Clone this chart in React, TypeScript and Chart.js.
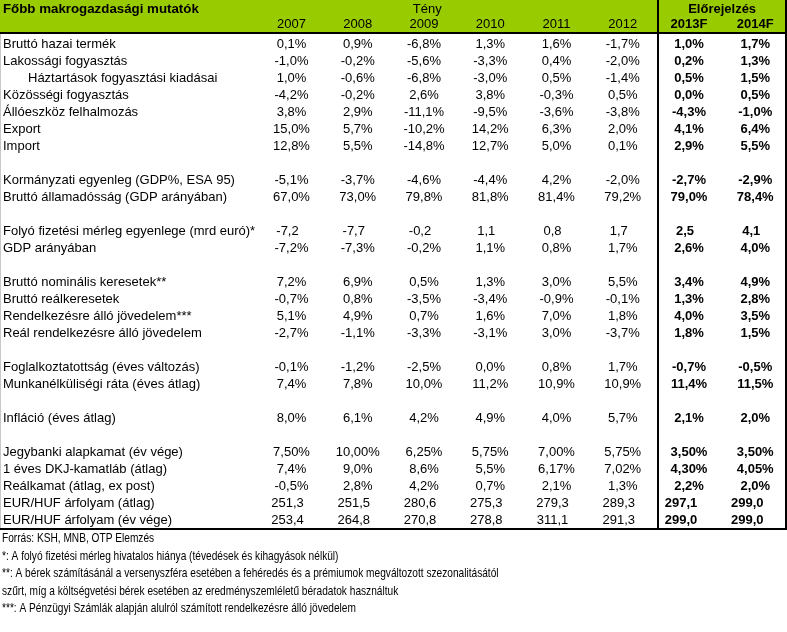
import React, { useEffect, useRef } from "react";
import { Chart, registerables } from "chart.js";

Chart.register(...registerables);

// ---------- DATA ----------
const years = ["2007", "2008", "2009", "2010", "2011", "2012", "2013F", "2014F"];
const forecastStart = 6;
const titleText = "Főbb makrogazdasági mutatók";
const actualHeader = "Tény";
const forecastHeader = "Előrejelzés";

const rowLabels = [
  "Bruttó hazai termék",
  "Lakossági fogyasztás",
  "Háztartások fogyasztási kiadásai",
  "Közösségi fogyasztás",
  "Állóeszköz felhalmozás",
  "Export",
  "Import",
  "",
  "Kormányzati egyenleg (GDP%, ESA 95)",
  "Bruttó államadósság (GDP arányában)",
  "",
  "Folyó fizetési mérleg egyenlege (mrd euró)*",
  "GDP arányában",
  "",
  "Bruttó nominális keresetek**",
  "Bruttó reálkeresetek",
  "Rendelkezésre álló jövedelem***",
  "Reál rendelkezésre álló jövedelem",
  "",
  "Foglalkoztatottság (éves változás)",
  "Munkanélküliségi ráta (éves átlag)",
  "",
  "Infláció (éves átlag)",
  "",
  "Jegybanki alapkamat (év vége)",
  "1 éves DKJ-kamatláb (átlag)",
  "Reálkamat (átlag, ex post)",
  "EUR/HUF árfolyam (átlag)",
  "EUR/HUF árfolyam (év vége)",
];
const indentedRows = [2];

const gdp = [0.1, 0.9, -6.8, 1.3, 1.6, -1.7, 1.0, 1.7];
const lakossagi = [-1.0, -0.2, -5.6, -3.3, 0.4, -2.0, 0.2, 1.3];
const haztartasok = [1.0, -0.6, -6.8, -3.0, 0.5, -1.4, 0.5, 1.5];
const kozossegi = [-4.2, -0.2, 2.6, 3.8, -0.3, 0.5, 0.0, 0.5];
const alloeszkoz = [3.8, 2.9, -11.1, -9.5, -3.6, -3.8, -4.3, -1.0];
const exportV = [15.0, 5.7, -10.2, 14.2, 6.3, 2.0, 4.1, 6.4];
const importV = [12.8, 5.5, -14.8, 12.7, 5.0, 0.1, 2.9, 5.5];
const kormanyzati = [-5.1, -3.7, -4.6, -4.4, 4.2, -2.0, -2.7, -2.9];
const adossag = [67.0, 73.0, 79.8, 81.8, 81.4, 79.2, 79.0, 78.4];
const folyoMrd = [-7.2, -7.7, -0.2, 1.1, 0.8, 1.7, 2.5, 4.1];
const folyoGdp = [-7.2, -7.3, -0.2, 1.1, 0.8, 1.7, 2.6, 4.0];
const nominalis = [7.2, 6.9, 0.5, 1.3, 3.0, 5.5, 3.4, 4.9];
const realkereset = [-0.7, 0.8, -3.5, -3.4, -0.9, -0.1, 1.3, 2.8];
const rendelkezesre = [5.1, 4.9, 0.7, 1.6, 7.0, 1.8, 4.0, 3.5];
const realRendelkezesre = [-2.7, -1.1, -3.3, -3.1, 3.0, -3.7, 1.8, 1.5];
const foglalkoztatottsag = [-0.1, -1.2, -2.5, 0.0, 0.8, 1.7, -0.7, -0.5];
const munkanelkuli = [7.4, 7.8, 10.0, 11.2, 10.9, 10.9, 11.4, 11.5];
const inflacio = [8.0, 6.1, 4.2, 4.9, 4.0, 5.7, 2.1, 2.0];
const jegybanki = [7.5, 10.0, 6.25, 5.75, 7.0, 5.75, 3.5, 3.5];
const dkj = [7.4, 9.0, 8.6, 5.5, 6.17, 7.02, 4.3, 4.05];
const dkjDecimals = [1, 1, 1, 1, 2, 2, 2, 2];
const realkamat = [-0.5, 2.8, 4.2, 0.7, 2.1, 1.3, 2.2, 2.0];
const eurhufAtlag = [251.3, 251.5, 280.6, 275.3, 279.3, 289.3, 297.1, 299.0];
const eurhufVege = [253.4, 264.8, 270.8, 278.8, 311.1, 291.3, 299.0, 299.0];

const rowSeries: (number[] | null)[] = [
  gdp, lakossagi, haztartasok, kozossegi, alloeszkoz, exportV, importV, null,
  kormanyzati, adossag, null,
  folyoMrd, folyoGdp, null,
  nominalis, realkereset, rendelkezesre, realRendelkezesre, null,
  foglalkoztatottsag, munkanelkuli, null,
  inflacio, null,
  jegybanki, dkj, realkamat, eurhufAtlag, eurhufVege,
];
const noPercentSeries = [folyoMrd, eurhufAtlag, eurhufVege];
const exchangeRateSeries = [eurhufAtlag, eurhufVege];
const twoDecimalSeries = [jegybanki];

const footnotes = [
  "Forrás: KSH, MNB, OTP Elemzés",
  "*: A folyó fizetési mérleg hivatalos hiánya (tévedések és kihagyások nélkül)",
  "**: A bérek számításánál a versenyszféra esetében a fehéredés és a prémiumok megváltozott szezonalitásától",
  "szűrt, míg a költségvetési bérek esetében az eredményszemléletű béradatok használtuk",
  "***: A Pénzügyi Számlák alapján alulról számított rendelkezésre álló jövedelem",
];

// ---------- helpers ----------
function formatCell(series: number[], col: number): string {
  let dec = 1;
  if (series === dkj) dec = dkjDecimals[col];
  else if (twoDecimalSeries.includes(series)) dec = 2;
  const s = series[col].toFixed(dec).replace(".", ",");
  return noPercentSeries.includes(series) ? s : s + "%";
}

const GREEN = "#99cc00";
const FONT = "'Liberation Sans', Arial, sans-serif";
const SIZE = 13;

const tablePlugin = {
  id: "tablePlugin",
  beforeDatasetsDraw(chart: any) {
    const { ctx } = chart;
    const xs = chart.scales.x;
    const ys = chart.scales.y;
    const top = ys.getPixelForValue(-2.6);
    const headBottom = Math.round(ys.getPixelForValue(-0.65));
    const bottom = Math.round(ys.getPixelForValue(28.53));
    const left = xs.getPixelForValue(-4.4);
    const sep = Math.round(xs.getPixelForValue(5.53));
    const right = Math.round(xs.getPixelForValue(7.47));
    ctx.save();
    ctx.fillStyle = GREEN;
    ctx.fillRect(left, top, right - left, headBottom - top);
    ctx.fillStyle = "#c8c8c8";
    ctx.fillRect(0, headBottom, 1, bottom - headBottom);
    ctx.fillStyle = "#000";
    ctx.fillRect(left, headBottom - 1, right + 2 - left, 2);
    ctx.fillRect(left, bottom - 1, right + 2 - left, 2);
    ctx.fillRect(sep - 1, top, 2, bottom - top);
    ctx.fillRect(right - 1, top, 2, bottom - top);
    ctx.restore();
  },
  afterDatasetsDraw(chart: any) {
    const { ctx } = chart;
    const xs = chart.scales.x;
    const ys = chart.scales.y;
    const leftX = xs.getPixelForValue(-4.4) + 3;
    ctx.save();
    ctx.fillStyle = "#000";
    ctx.textBaseline = "middle";

    // Title
    ctx.textAlign = "left";
    ctx.font = `bold 13.3px ${FONT}`;
    ctx.fillText(titleText, leftX, ys.getPixelForValue(-2.05));

    // Group headers
    ctx.textAlign = "center";
    ctx.font = `${SIZE}px ${FONT}`;
    ctx.fillText(actualHeader, xs.getPixelForValue(2.05), ys.getPixelForValue(-2.05));
    ctx.font = `bold ${SIZE}px ${FONT}`;
    ctx.fillText(forecastHeader, xs.getPixelForValue(6.5), ys.getPixelForValue(-2.05));

    // Years
    years.forEach((yr, c) => {
      ctx.font = c >= forecastStart ? `bold ${SIZE}px ${FONT}` : `${SIZE}px ${FONT}`;
      ctx.fillText(yr, xs.getPixelForValue(c), ys.getPixelForValue(-1.15));
    });

    // Row labels
    ctx.textAlign = "left";
    ctx.font = `${SIZE}px ${FONT}`;
    rowLabels.forEach((lab, r) => {
      if (!lab) return;
      const indent = indentedRows.includes(r) ? 25 : 0;
      ctx.fillText(lab, leftX + indent, ys.getPixelForValue(r));
    });

    // Cells from dataset elements
    ctx.textAlign = "center";
    chart.data.datasets.forEach((ds: any, di: number) => {
      const meta = chart.getDatasetMeta(di);
      meta.data.forEach((el: any, k: number) => {
        const pt = ds.data[k];
        const series = rowSeries[pt.y] as number[];
        const col = pt.x;
        ctx.font = col >= forecastStart ? `bold ${SIZE}px ${FONT}` : `${SIZE}px ${FONT}`;
        let dx = 0;
        if (noPercentSeries.includes(series)) dx = -4;
        if (exchangeRateSeries.includes(series) && col >= forecastStart) dx = -8;
        ctx.fillText(formatCell(series, col), el.x + dx, el.y);
      });
    });

    // Footnotes (narrow face)
    ctx.textAlign = "left";
    ctx.font = `13px ${FONT}`;
    footnotes.forEach((t, i) => {
      const y = ys.getPixelForValue(29.1 + i * 1.03);
      ctx.save();
      ctx.translate(leftX - 1, y);
      ctx.scale(0.78, 1);
      ctx.fillText(t, 0, 0);
      ctx.restore();
    });
    ctx.restore();
  },
};

export default function App() {
  const ref = useRef<HTMLCanvasElement | null>(null);
  useEffect(() => {
    if (!ref.current) return;
    const datasets = years.map((yr, c) => ({
      label: yr,
      data: rowSeries
        .map((s, r) => (s ? { x: c, y: r } : null))
        .filter((p) => p !== null),
      pointRadius: 0,
      pointHoverRadius: 0,
      showLine: false,
    }));
    const chart = new Chart(ref.current, {
      type: "scatter",
      data: { datasets: datasets as any },
      options: {
        animation: false,
        responsive: false,
        events: [],
        layout: { padding: 0 },
        plugins: { legend: { display: false }, tooltip: { enabled: false } },
        scales: {
          x: { type: "linear", display: false, min: -4.4, max: -4.4 + 787 / 66.25 },
          y: { type: "linear", display: false, reverse: true, min: -44 / 17, max: (632 - 44) / 17 },
        },
      },
      plugins: [tablePlugin],
    });
    return () => chart.destroy();
  }, []);
  return (
    <div style={{ position: "fixed", left: 0, top: 0, width: 787, height: 632, background: "#fff" }}>
      <canvas ref={ref} width={787} height={632} style={{ display: "block" }} />
    </div>
  );
}
